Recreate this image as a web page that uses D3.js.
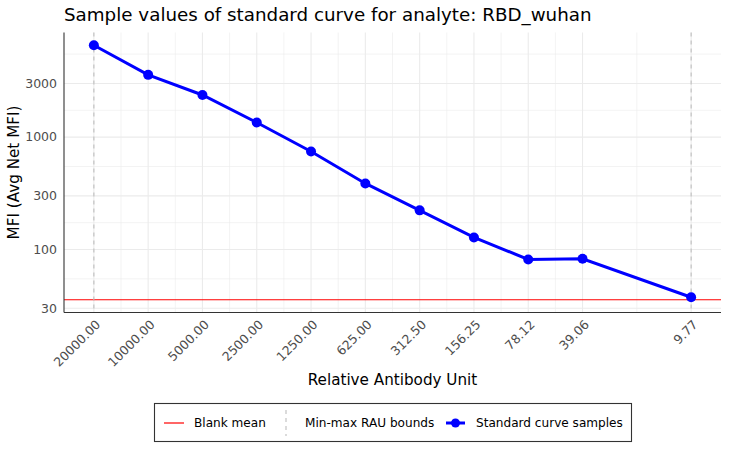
<!DOCTYPE html>
<html>
<head>
<meta charset="utf-8">
<script src="https://cdn.jsdelivr.net/npm/d3@7"></script>
<style>
  body { margin: 0; background: #fff; }
  text { font-family: "DejaVu Sans", sans-serif; }
</style>
</head>
<body>
<svg id="chart" width="729" height="450"></svg>
<script>
// Standard curve data
const rau = [20000, 10000, 5000, 2500, 1250, 625, 312.5, 156.25, 78.125, 39.0625, 9.765625];
const rauLabels = ["20000.00", "10000.00", "5000.00", "2500.00", "1250.00", "625.00",
                   "312.50", "156.25", "78.12", "39.06", "9.77"];
const mfi = [6570, 3580, 2370, 1350, 744, 387, 223, 128, 81.6, 82.6, 37.6];
const blankMean = 35.7;
const rauBounds = [20000, 9.765625];
const yTicks = [30, 100, 300, 1000, 3000];
const yTickLabels = ["30", "100", "300", "1000", "3000"];

const svg = d3.select("#chart");
const panel = { left: 64, right: 721, top: 32.5, bottom: 312.5 };
const tickSize = 12.5, legendSize = 12.1;

// log scale domain expanded by 5% like ggplot
function expandLog(lo, hi) {
    let a = Math.log10(lo), b = Math.log10(hi), d = (b - a) * 0.05;
    return [Math.pow(10, a - d), Math.pow(10, b + d)];
}

let xd = expandLog(d3.min(rau), d3.max(rau));
// reversed: large RAU on the left
let x = d3.scaleLog().domain([xd[1], xd[0]]).range([panel.left, panel.right]);
let yd = expandLog(d3.min(mfi.concat([blankMean])), d3.max(mfi));
let y = d3.scaleLog().domain(yd).range([panel.bottom, panel.top]);

let grid = svg.append("g");

// minor grid: log midpoints between breaks
let xMinor = [];
for (let i = 0; i < rau.length - 1; i++) xMinor.push(Math.sqrt(rau[i] * rau[i + 1]));
let yMinor = [];
let yExt = yTicks.concat([yTicks[yTicks.length - 1] * yTicks[1] / yTicks[0]]);
for (let i = 0; i < yExt.length - 1; i++) {
    let m = Math.sqrt(yExt[i] * yExt[i + 1]);
    if (m > yd[0] && m < yd[1]) yMinor.push(m);
}

grid.selectAll(".xminor").data(xMinor).enter().append("line")
    .attr("x1", d => x(d)).attr("x2", d => x(d))
    .attr("y1", panel.top).attr("y2", panel.bottom)
    .attr("stroke", "#ebebeb").attr("stroke-width", 0.6);
grid.selectAll(".yminor").data(yMinor).enter().append("line")
    .attr("x1", panel.left).attr("x2", panel.right)
    .attr("y1", d => y(d)).attr("y2", d => y(d))
    .attr("stroke", "#ebebeb").attr("stroke-width", 0.6);
grid.selectAll(".xmajor").data(rau).enter().append("line")
    .attr("x1", d => x(d)).attr("x2", d => x(d))
    .attr("y1", panel.top).attr("y2", panel.bottom)
    .attr("stroke", "#ebebeb").attr("stroke-width", 1.1);
grid.selectAll(".ymajor").data(yTicks).enter().append("line")
    .attr("x1", panel.left).attr("x2", panel.right)
    .attr("y1", d => y(d)).attr("y2", d => y(d))
    .attr("stroke", "#ebebeb").attr("stroke-width", 1.1);

// blank mean
svg.append("line")
    .attr("x1", panel.left).attr("x2", panel.right)
    .attr("y1", y(blankMean)).attr("y2", y(blankMean))
    .attr("stroke", "#ff0000").attr("stroke-width", 1.2);

// min-max RAU bounds
svg.selectAll(".bound").data(rauBounds).enter().append("line")
    .attr("x1", d => x(d)).attr("x2", d => x(d))
    .attr("y1", panel.top).attr("y2", panel.bottom)
    .attr("stroke", "#bebebe").attr("stroke-width", 1.1)
    .attr("stroke-dasharray", "4,4");

// standard curve
let pts = rau.map((r, i) => [r, mfi[i]]);
svg.append("path").datum(pts)
    .attr("d", d3.line().x(d => x(d[0])).y(d => y(d[1])))
    .attr("fill", "none").attr("stroke", "#0000ff").attr("stroke-width", 3);
svg.selectAll(".pt").data(pts).enter().append("circle")
    .attr("cx", d => x(d[0])).attr("cy", d => y(d[1])).attr("r", 5)
    .attr("fill", "#0000ff");

// axes lines
svg.append("line").attr("x1", panel.left).attr("x2", panel.left)
    .attr("y1", panel.top).attr("y2", panel.bottom)
    .attr("stroke", "#333").attr("stroke-width", 1.1);
svg.append("line").attr("x1", panel.left).attr("x2", panel.right)
    .attr("y1", panel.bottom).attr("y2", panel.bottom)
    .attr("stroke", "#333").attr("stroke-width", 1.1);

// y tick labels
svg.selectAll(".ylab").data(yTicks).enter().append("text")
    .attr("x", panel.left - 7).attr("y", d => y(d)).attr("dy", "0.35em")
    .attr("text-anchor", "end").attr("font-size", tickSize).attr("fill", "#4d4d4d")
    .text((d, i) => yTickLabels[i]);

// x tick labels, rotated 45
svg.selectAll(".xlab").data(rau).enter().append("text")
    .attr("transform", d => `translate(${x(d) + 1},${panel.bottom + 6.5}) rotate(-45)`)
    .attr("dy", "0.72em")
    .attr("text-anchor", "end").attr("font-size", tickSize).attr("fill", "#4d4d4d")
    .text((d, i) => rauLabels[i]);

// titles
svg.append("text").attr("x", panel.left).attr("y", 21)
    .attr("font-size", 18.3).attr("fill", "#000")
    .text("Sample values of standard curve for analyte: RBD_wuhan");
svg.append("text").attr("x", (panel.left + panel.right) / 2).attr("y", 385)
    .attr("text-anchor", "middle").attr("font-size", 15.2).attr("fill", "#000")
    .text("Relative Antibody Unit");
svg.append("text")
    .attr("transform", `translate(19,${(panel.top + panel.bottom) / 2}) rotate(-90)`)
    .attr("text-anchor", "middle").attr("font-size", 15.2).attr("fill", "#000")
    .text("MFI (Avg Net MFI)");

// legend
let lg = svg.append("g");
lg.append("rect").attr("x", 154.5).attr("y", 403.5).attr("width", 477).attr("height", 38)
    .attr("fill", "#fff").attr("stroke", "#333").attr("stroke-width", 1.1);
let ly = 423;
lg.append("line").attr("x1", 164).attr("x2", 184).attr("y1", ly).attr("y2", ly)
    .attr("stroke", "#ff0000").attr("stroke-width", 1.2);
lg.append("text").attr("x", 194).attr("y", ly).attr("dy", "0.35em")
    .attr("font-size", legendSize).text("Blank mean");
lg.append("line").attr("x1", 286).attr("x2", 286).attr("y1", ly - 13).attr("y2", ly + 13)
    .attr("stroke", "#bebebe").attr("stroke-width", 1.1).attr("stroke-dasharray", "4,4");
lg.append("text").attr("x", 305).attr("y", ly).attr("dy", "0.35em")
    .attr("font-size", legendSize).text("Min-max RAU bounds");
lg.append("line").attr("x1", 446).attr("x2", 465).attr("y1", ly).attr("y2", ly)
    .attr("stroke", "#0000ff").attr("stroke-width", 3);
lg.append("circle").attr("cx", 455.5).attr("cy", ly).attr("r", 4.5).attr("fill", "#0000ff");
lg.append("text").attr("x", 476).attr("y", ly).attr("dy", "0.35em")
    .attr("font-size", legendSize).text("Standard curve samples");
</script>
</body>
</html>
